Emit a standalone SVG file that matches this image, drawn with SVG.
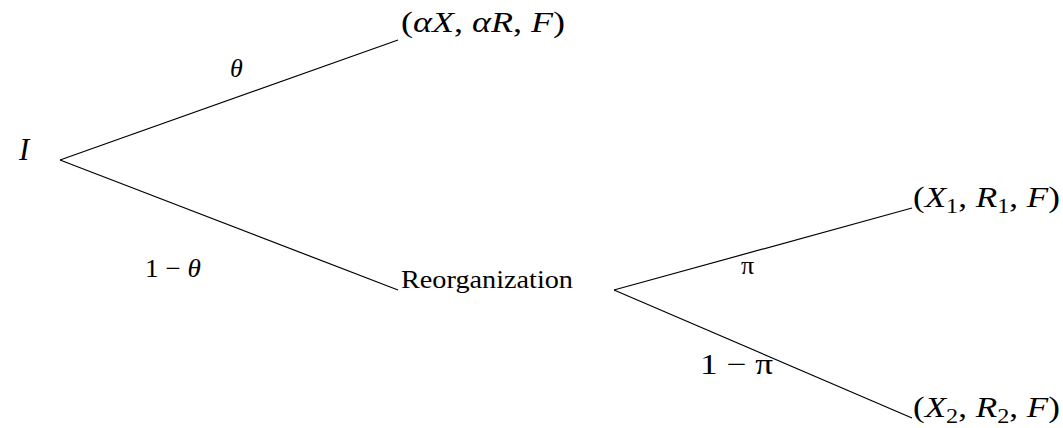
<svg xmlns="http://www.w3.org/2000/svg" width="1063" height="428" viewBox="0 0 1063 428">
<style>
text{font-family:"Liberation Serif","DejaVu Serif",serif;fill:#000}
.m{font-style:italic}
.n{font-style:normal}
.big{font-size:29px}
.lab{font-size:26px}
line{stroke:#000;stroke-width:1.2}
</style>
<rect width="1063" height="428" fill="#fff"/>
<g id="connectors">
<line x1="60" y1="160" x2="398" y2="40"/>
<line x1="60" y1="160" x2="398" y2="290"/>
<line x1="614" y1="290" x2="912" y2="208"/>
<line x1="614" y1="290" x2="912" y2="418"/>
</g>
<g id="I"><text class="m" x="19" y="160" font-size="31">I</text></g>
<g id="top"><text class="big" x="401" y="32" textLength="164" lengthAdjust="spacingAndGlyphs"><tspan class="n">(</tspan><tspan class="m">αX</tspan><tspan class="n">, </tspan><tspan class="m">αR</tspan><tspan class="n">, </tspan><tspan class="m">F</tspan><tspan class="n">)</tspan></text></g>
<g id="reorg"><text x="401" y="288" style="font-size:25px" textLength="172" lengthAdjust="spacingAndGlyphs">Reorganization</text></g>
<g id="x1"><text class="big" x="913" y="207" textLength="147" lengthAdjust="spacingAndGlyphs"><tspan>(</tspan><tspan class="m">X</tspan><tspan font-size="20" dy="6">1</tspan><tspan dy="-6">, </tspan><tspan class="m">R</tspan><tspan font-size="20" dy="6">1</tspan><tspan dy="-6">, </tspan><tspan class="m">F</tspan><tspan>)</tspan></text></g>
<g id="x2"><text class="big" x="913" y="417" textLength="147" lengthAdjust="spacingAndGlyphs"><tspan>(</tspan><tspan class="m">X</tspan><tspan font-size="20" dy="6">2</tspan><tspan dy="-6">, </tspan><tspan class="m">R</tspan><tspan font-size="20" dy="6">2</tspan><tspan dy="-6">, </tspan><tspan class="m">F</tspan><tspan>)</tspan></text></g>
<g id="labels">
<text class="lab m" x="230" y="77">θ</text>
<text class="lab" x="145" y="277" textLength="56" lengthAdjust="spacingAndGlyphs">1 − <tspan class="m">θ</tspan></text>
<text class="lab" x="741" y="274">π</text>
<text class="big" x="700" y="374" textLength="73" lengthAdjust="spacingAndGlyphs">1 − π</text>
</g>
</svg>
